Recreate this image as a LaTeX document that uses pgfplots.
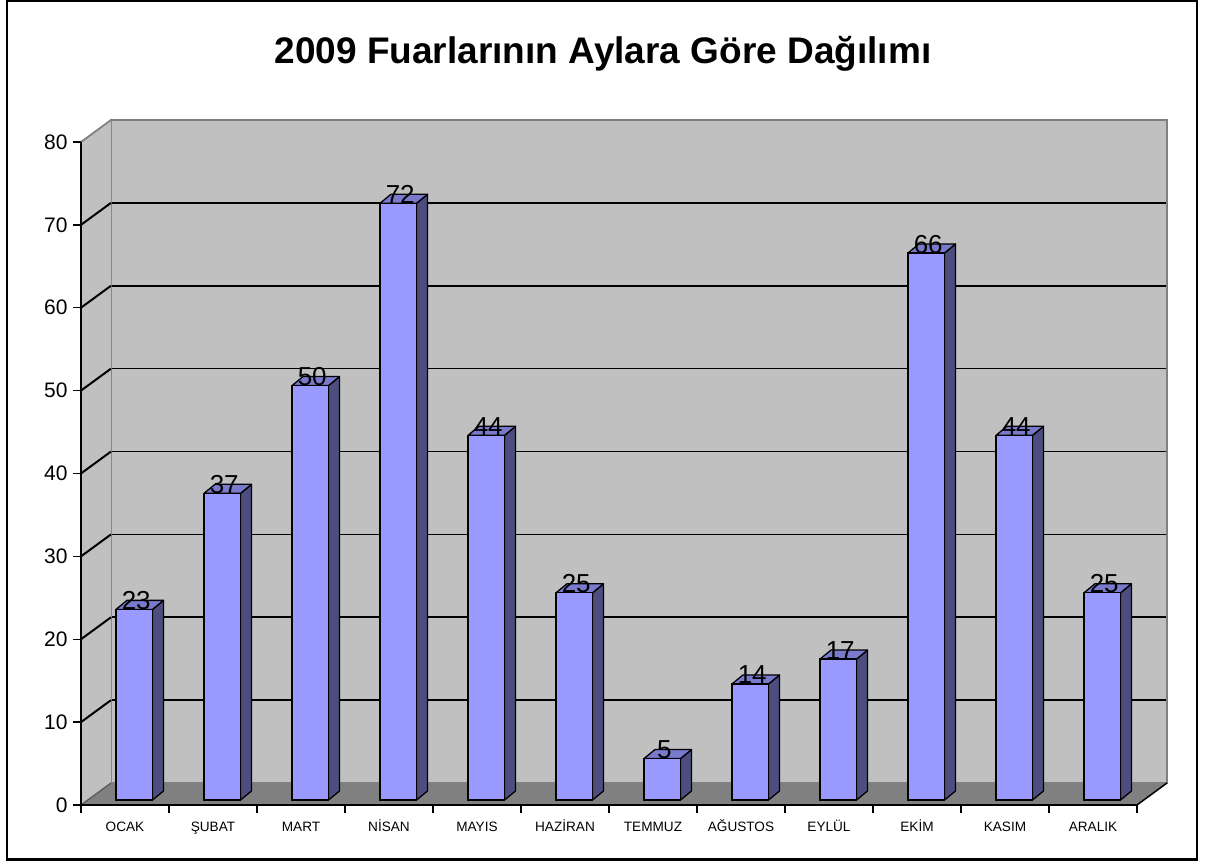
\documentclass[border=0pt]{standalone}
\usepackage{fontspec}
\setmainfont{Liberation Sans}
\usepackage{pgfplots}
\usepackage{pgfplotstable}
\pgfplotsset{compat=1.18}
\definecolor{wall}{RGB}{192,192,192}
\definecolor{floorc}{RGB}{128,128,128}
\definecolor{edgec}{RGB}{128,128,128}
\definecolor{barfront}{RGB}{153,153,255}
\definecolor{barside}{RGB}{77,77,128}
\definecolor{bartop}{RGB}{122,122,204}

\pgfplotstableread{
idx v
0 23
1 37
2 50
3 72
4 44
5 25
6 5
7 14
8 17
9 66
10 44
11 25
}\bardata

\begin{document}
\begin{tikzpicture}
\useasboundingbox (0,0) rectangle (1210pt,862pt);
\draw[line width=2pt] (6.5pt,2.5pt) rectangle (1196.5pt,860.5pt);
\node[font=\fontsize{37}{40}\selectfont\bfseries, anchor=base, inner sep=0pt] at (603pt,798.5pt) {2009 Fuarlarının Aylara Göre Dağılımı};
% ---- back wall, left wall and floor
\begin{axis}[
  at={(111pt,79pt)}, anchor=south west,
  scale only axis, width=1056pt, height=663pt,
  xmin=0, xmax=1056, ymin=0, ymax=80,
  clip=false,
  xtick=\empty, ytick={10,20,...,70}, yticklabels={},
  major tick length=0pt,
  ymajorgrids, grid style={black, line width=1.7pt},
  axis background/.style={fill=wall},
  axis line style={edgec, line width=1.8pt},
]
\fill[wall] (axis cs:-30,-2.65) -- (axis cs:-30,77.35) -- (axis cs:0,80) -- (axis cs:0,0) -- cycle;
\fill[floorc] (axis cs:-30,-2.65) -- (axis cs:1026,-2.65) -- (axis cs:1056,0) -- (axis cs:0,0) -- cycle;
\draw[edgec, line width=1.8pt] (axis cs:-30,77.35) -- (axis cs:0,80);
\draw[edgec!70!black, line width=1.3pt] (axis cs:-30,-2.65) -- (axis cs:0,0);
\draw[black, line width=1.5pt] (axis cs:1026,-2.65) -- (axis cs:1056,0);
\end{axis}
% ---- front axis: ticks, labels, side-wall grid lines
\begin{axis}[
  at={(81pt,57pt)}, anchor=south west,
  scale only axis, width=1086pt, height=685pt,
  xmin=-0.5, xmax=11.841, ymin=0, ymax=82.65,
  clip=false,
  axis line style={draw=none},
  tick pos=left,
  tick align=outside,
  major tick length=8pt,
  tick style={black, line width=1.4pt},
  ytick={0,10,...,80},
  xtick={-0.5,0.5,...,11.5},
  xticklabels={},
  extra x ticks={0,1,...,11},
  extra x tick labels={OCAK,ŞUBAT,MART,NİSAN,MAYIS,HAZİRAN,TEMMUZ,AĞUSTOS,EYLÜL,EKİM,KASIM,ARALIK},
  extra x tick style={major tick length=0pt},
  yticklabel style={font=\fontsize{21}{21}\selectfont, xshift=-2pt},
  xticklabel style={font=\fontsize{13.6}{14}\selectfont, text height=10pt, text depth=3pt, yshift=-13pt},
  /pgf/number format/assume math mode=true,
]
\addplot[black, line width=2pt, mark=none, forget plot] coordinates {(-0.5,10) (-0.159,12.65)};
\addplot[black, line width=2pt, mark=none, forget plot] coordinates {(-0.5,20) (-0.159,22.65)};
\addplot[black, line width=2pt, mark=none, forget plot] coordinates {(-0.5,30) (-0.159,32.65)};
\addplot[black, line width=2pt, mark=none, forget plot] coordinates {(-0.5,40) (-0.159,42.65)};
\addplot[black, line width=2pt, mark=none, forget plot] coordinates {(-0.5,50) (-0.159,52.65)};
\addplot[black, line width=2pt, mark=none, forget plot] coordinates {(-0.5,60) (-0.159,62.65)};
\addplot[black, line width=2pt, mark=none, forget plot] coordinates {(-0.5,70) (-0.159,72.65)};
\draw[black, line width=1.6pt] (axis cs:-0.5,80) -- (axis cs:-0.5,0) -- (axis cs:11.5,0);
\end{axis}
% ---- bars (front face plane at 0.6 above the front axis)
\begin{axis}[
  at={(81pt,57pt)}, anchor=south west,
  scale only axis, width=1086pt, height=685pt,
  xmin=-0.5, xmax=11.841, ymin=-0.6, ymax=82.05,
  clip=false, hide axis,
  ybar, bar width=0.415,
  /pgf/number format/assume math mode=true,
]
\pgfplotsinvokeforeach{0,...,11}{
  \pgfplotstablegetelem{#1}{v}\of\bardata
  \pgfmathsetmacro\vv{\pgfplotsretval}
  \pgfmathsetmacro\vt{\pgfplotsretval+1.09}
  \pgfmathsetmacro\xl{#1-0.1025}
  \pgfmathsetmacro\xr{#1+0.3125}
  \pgfmathsetmacro\xrr{#1+0.4375}
  \pgfmathsetmacro\xll{#1+0.0225}
  \edef\temp{\noexpand\filldraw[fill=barside,draw=black,line width=1.3pt,line join=round] (axis cs:\xr,0) -- (axis cs:\xr,\vv) -- (axis cs:\xrr,\vt) -- (axis cs:\xrr,1.09) -- cycle;
  \noexpand\filldraw[fill=bartop,draw=black,line width=1.3pt,line join=round] (axis cs:\xl,\vv) -- (axis cs:\xr,\vv) -- (axis cs:\xrr,\vt) -- (axis cs:\xll,\vt) -- cycle;}
  \temp
}
\addplot[fill=barfront, draw=black, line width=1.3pt,
  nodes near coords,
  every node near coord/.append style={font=\fontsize{26}{26}\selectfont, anchor=base, inner sep=0pt, xshift=2pt, yshift=0pt, text=black}]
  table[x expr=\coordindex+0.105, y=v] {\bardata};
\end{axis}
\end{tikzpicture}
\end{document}
